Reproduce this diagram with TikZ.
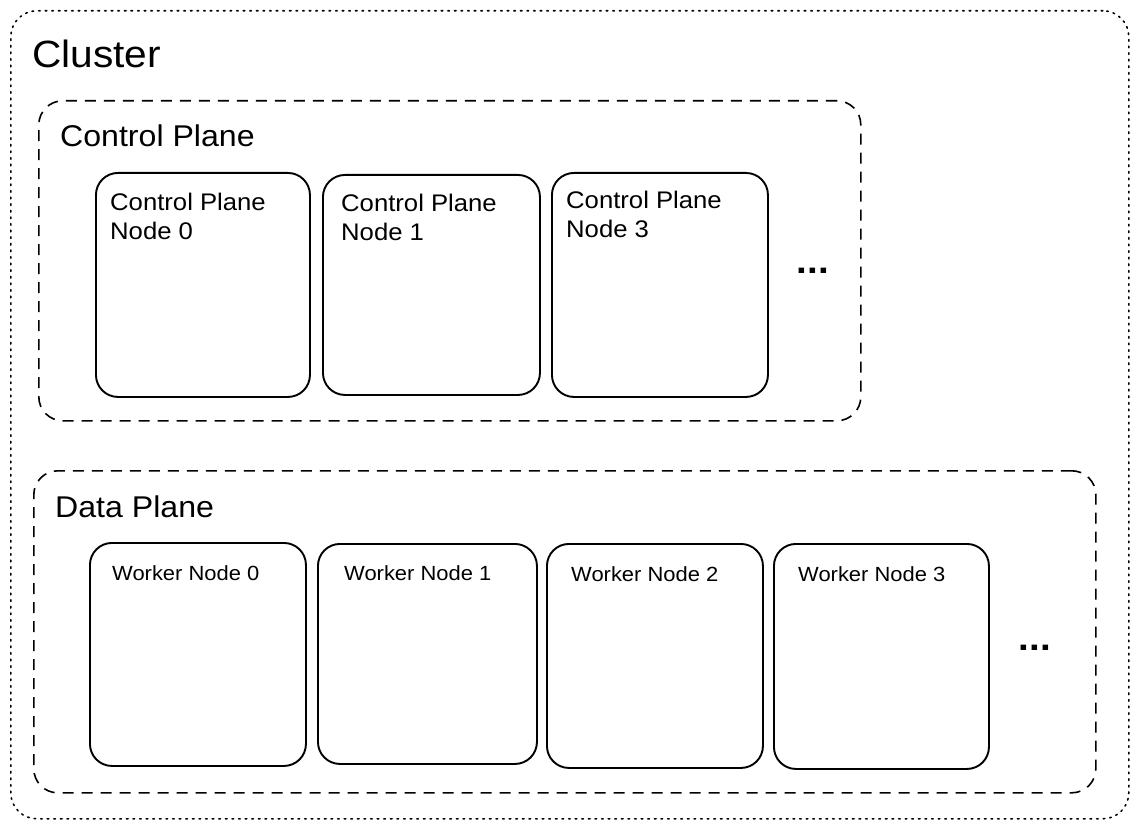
\documentclass[tikz,border=0pt]{standalone}
\usepackage{fontspec}
\setmainfont[FakeStretch=1.07]{Liberation Sans}
\begin{document}
\begin{tikzpicture}[x=1pt,y=-1pt,
  nodebox/.style={draw, line width=1.9pt, rounded corners=22pt, minimum width=#1, inner sep=0pt, anchor=north west},
  groupbox/.style={draw, line width=1.6pt, dash pattern=on 11pt off 8pt, rounded corners=24pt, inner sep=0pt, anchor=north west},
  clusterbox/.style={draw, line width=1.6pt, dash pattern=on 1.6pt off 5pt, line cap=round, rounded corners=26pt, inner sep=0pt, anchor=north west},
  nodetext/.style={anchor=north west, inner sep=0pt, align=left, font=\fontsize{24}{29}\selectfont},
  workertext/.style={anchor=base west, inner sep=0pt, font=\fontsize{20.5}{24}\selectfont},
  titletext/.style={anchor=base west, inner sep=0pt, font=\fontsize{30}{34}\selectfont},
  moretext/.style={inner sep=0pt, font=\fontsize{36}{40}\selectfont\bfseries}
]
\useasboundingbox[fill=white] (0,0) rectangle (1138,829);

% cluster
\node[clusterbox, minimum width=1118pt, minimum height=808pt] (cluster) at (10,10) {};
\node[anchor=base west, inner sep=0pt, font=\fontsize{38}{42}\selectfont] (clustertitle) at (32,68) {Cluster};

% control plane
\node[groupbox, minimum width=822pt, minimum height=320pt] (cp) at (38,100) {};
\node[titletext] (cptitle) at (60,147) {Control Plane};

\node[nodebox=214pt, minimum height=224pt] (cp0) at (95,172) {};
\node[nodebox=217pt, minimum height=220pt] (cp1) at (322,174) {};
\node[nodebox=216pt, minimum height=224pt] (cp3) at (551,172) {};
\node[nodetext] (cp0t) at (110,193) {Control Plane\\Node 0};
\node[nodetext] (cp1t) at (341,194) {Control Plane\\Node 1};
\node[nodetext] (cp3t) at (566,191) {Control Plane\\Node 3};
\node[moretext] (cpmore) at (813,271) {...};

% data plane
\node[groupbox, minimum width=1062pt, minimum height=322pt] (dp) at (33,470) {};
\node[titletext] (dptitle) at (55,517) {Data Plane};

\node[nodebox=216pt, minimum height=223pt] (w0) at (89,542) {};
\node[nodebox=219pt, minimum height=220pt] (w1) at (317,543) {};
\node[nodebox=216pt, minimum height=224pt] (w2) at (546,543) {};
\node[nodebox=215pt, minimum height=225pt] (w3) at (773,543) {};
\node[workertext] (w0t) at (112,580) {Worker Node 0};
\node[workertext] (w1t) at (344,580) {Worker Node 1};
\node[workertext] (w2t) at (571,581) {Worker Node 2};
\node[workertext] (w3t) at (798,581) {Worker Node 3};
\node[moretext] (dpmore) at (1035,648) {...};
\end{tikzpicture}
\end{document}
